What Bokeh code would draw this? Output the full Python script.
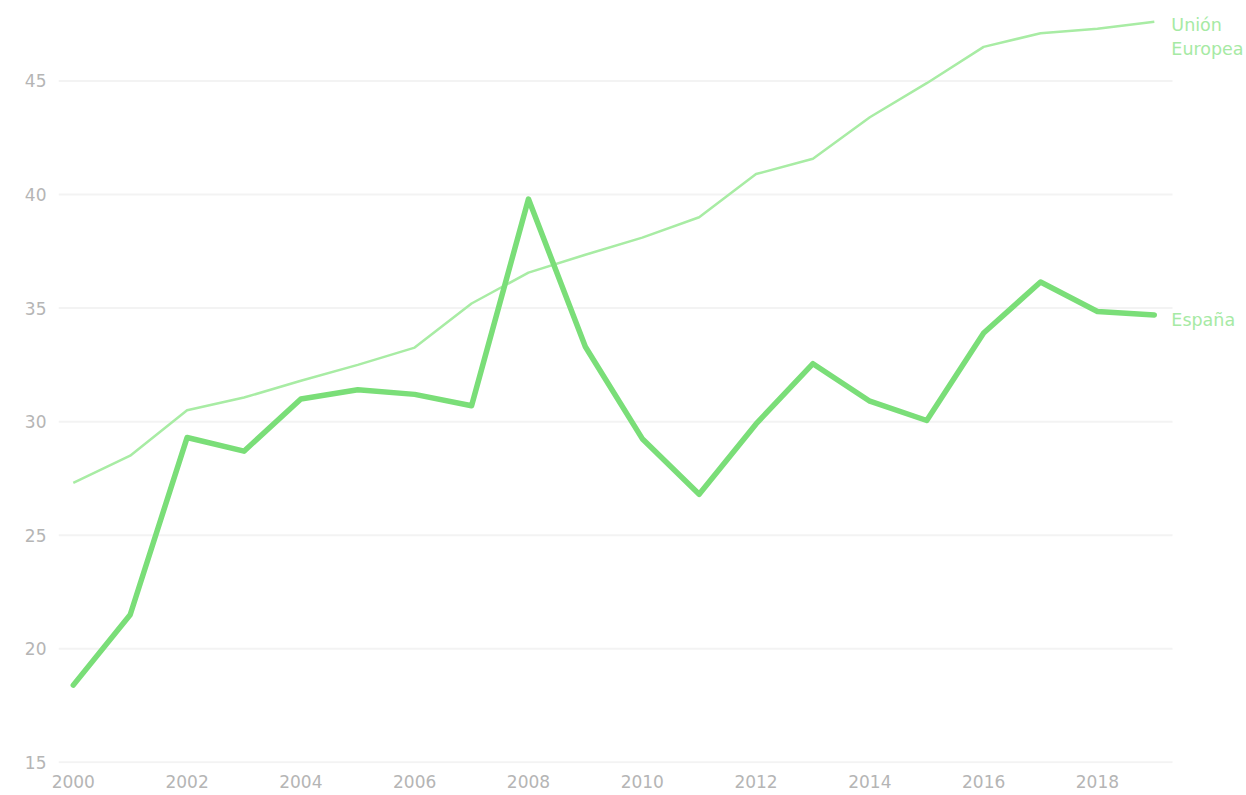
from bokeh.plotting import figure
from bokeh.models import FixedTicker, Range1d
from bokeh.core.properties import value
from bokeh.embed import file_html
from bokeh.resources import INLINE

years = list(range(2000, 2020))
eu = [27.3, 28.5, 30.5, 31.06, 31.8, 32.5, 33.26, 35.2, 36.56, 37.35,
      38.1, 39.0, 40.9, 41.57, 43.4, 44.9, 46.5, 47.1, 47.3, 47.6]
spain = [18.4, 21.5, 29.3, 28.7, 31.0, 31.4, 31.2, 30.7, 39.8, 33.3,
         29.25, 26.8, 29.9, 32.55, 30.9, 30.05, 33.9, 36.15, 34.85, 34.7]
x_ticks = list(range(2000, 2019, 2))
y_ticks = [15, 20, 25, 30, 35, 40, 45]
series_labels = ["Unión\nEuropea", "España"]

X0, X_GRID_END, X1 = 1999.74, 2019.32, 2020.62
FONT = "DejaVu Sans"

p = figure(width=1246, height=795, output_backend="svg", toolbar_location=None,
           x_range=Range1d(X0, X1), y_range=Range1d(14.95, 48.1),
           min_border_left=58, min_border_right=0, min_border_top=10, min_border_bottom=32)
p.outline_line_color = None
p.background_fill_color = "white"
p.border_fill_color = "white"

p.xgrid.grid_line_color = None
p.ygrid.grid_line_color = None
p.yaxis.ticker = FixedTicker(ticks=y_ticks)
p.xaxis.ticker = FixedTicker(ticks=x_ticks)
for ax in (p.xaxis, p.yaxis):
    ax.axis_line_color = None
    ax.major_tick_line_color = None
    ax.minor_tick_line_color = None
    ax.major_label_text_color = "#b5b5b5"
    ax.major_label_text_font = FONT
    ax.major_label_text_font_size = "17px"
p.yaxis.major_label_standoff = 6
p.xaxis.major_label_standoff = 5

# horizontal gridlines, limited to the plotting area
p.segment(x0=[X0] * len(y_ticks), x1=[X_GRID_END] * len(y_ticks), y0=y_ticks, y1=y_ticks,
          line_color="#f3f3f3", line_width=2)

p.line(years, eu, line_color="#a8eca4", line_width=2.5)
p.line(years, spain, line_color="#7ade78", line_width=5.5, line_join="round", line_cap="round")

lab_color = "#a6eaa4"
eu_lines = series_labels[0].split("\n")
p.text(x=[years[-1]] * 2, y=[eu[-1]] * 2, text=eu_lines, x_offset=17, y_offset=[3, 27],
       text_font=value(FONT), text_font_size="17.5px", text_color=lab_color,
       text_baseline="middle")
p.text(x=[years[-1]], y=[spain[-1]], text=[series_labels[1]], x_offset=17, y_offset=5,
       text_font=value(FONT), text_font_size="17.5px", text_color=lab_color,
       text_baseline="middle")

open("out.html", "w").write(file_html(p, INLINE))
